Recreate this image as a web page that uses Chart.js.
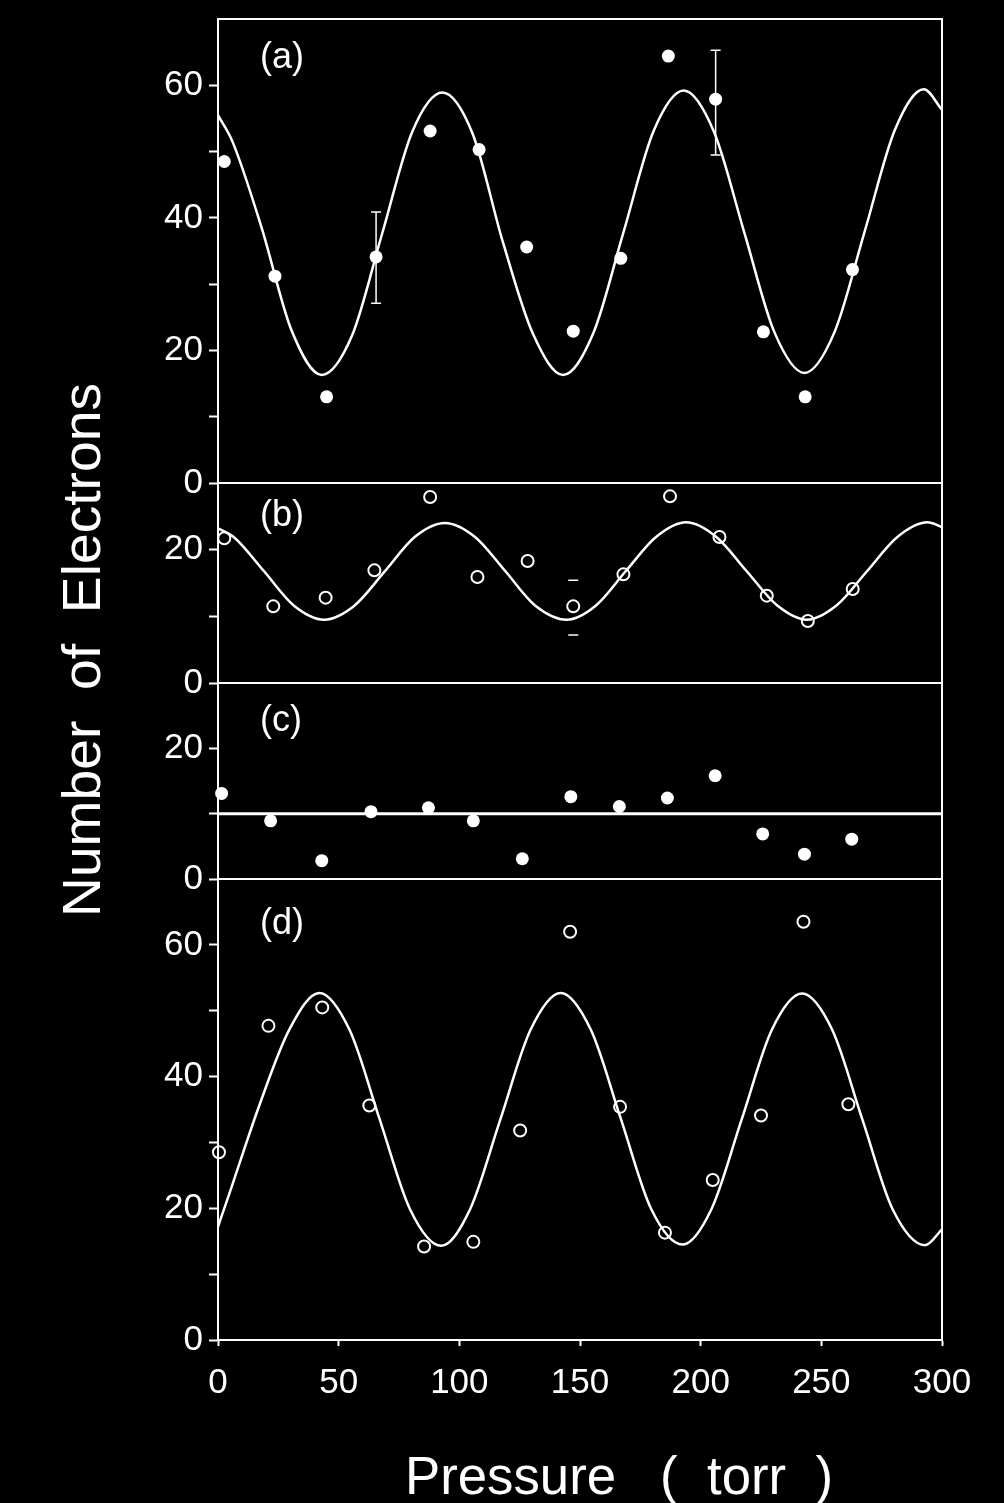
<!DOCTYPE html>
<html>
<head>
<meta charset="utf-8">
<title>Number of Electrons vs Pressure</title>
<script src="https://cdn.jsdelivr.net/npm/chart.js@4.4.1/dist/chart.umd.min.js"></script>
<style>
  html, body { margin: 0; padding: 0; background: #000; }
  #wrap { width: 1004px; height: 1503px; }
</style>
</head>
<body>
<div id="wrap"><canvas id="chart" width="1004" height="1503"></canvas></div>
<script>
// --- Values (x = pressure in torr, y = number of electrons)

// panel (a): filled dots + fitted curve
const aX = [2.6, 23.6, 45.0, 65.5, 87.9, 108.2, 127.9, 147.2, 166.9, 186.6, 206.2, 226.0, 243.3, 262.9];
const aY = [48.5, 31.2, 13.0, 34.1, 53.1, 50.3, 35.6, 22.9, 33.9, 64.4, 57.9, 22.8, 13.0, 32.2];
const aFitX = [0, 6, 18, 30.5, 43, 55.5, 68, 80.5, 93, 105.5, 118, 130.5, 143, 155.5, 168, 180.5, 193, 205.5, 218, 230.5, 243, 255.5, 268, 280.5, 292.5, 300];
const aFitY = [55.5, 51.5, 38.6, 23.0, 16.3, 22.2, 37.6, 53.0, 58.9, 52.7, 36.4, 22.5, 16.3, 22.6, 37.8, 53.1, 59.2, 53.0, 37.9, 22.8, 16.6, 22.8, 38.0, 53.3, 59.4, 56.3];

// panel (b): open circles + fitted curve
const bX = [2.6, 22.9, 44.6, 64.8, 87.9, 107.5, 128.3, 147.2, 168.0, 187.3, 207.8, 227.4, 244.4, 263.0];
const bY = [21.7, 11.5, 12.8, 16.9, 27.9, 15.9, 18.3, 11.5, 16.3, 28.0, 21.9, 13.1, 9.3, 14.1];
const bFitX = [0, 6.5, 19, 31.5, 44, 56.5, 69, 81.5, 94, 106.5, 119, 131.5, 144.5, 156.5, 169, 181.5, 194, 206.5, 219, 231.5, 244, 256.5, 269, 281.5, 294, 300];
const bFitY = [23.2, 21.9, 16.8, 11.6, 9.5, 11.6, 16.7, 21.9, 24.0, 21.9, 16.8, 11.6, 9.5, 11.6, 16.8, 21.9, 24.1, 21.9, 16.8, 11.7, 9.5, 11.7, 16.8, 21.9, 24.1, 23.4];

// panel (c): filled dots + flat line
const cX = [1.5, 21.8, 43.0, 63.4, 87.2, 105.8, 126.1, 146.2, 166.3, 186.2, 206.0, 225.7, 243.0, 262.6];
const cY = [13.1, 8.9, 2.8, 10.3, 10.9, 8.9, 3.1, 12.6, 11.1, 12.4, 15.8, 6.9, 3.8, 6.1];
const cFitX = [0, 300];
const cFitY = [10, 10];

// panel (d): open circles + fitted curve
const dX = [0.4, 20.9, 43.2, 62.7, 85.4, 105.8, 125.2, 145.9, 166.6, 185.2, 205.0, 225.0, 242.6, 261.2];
const dY = [28.5, 47.7, 50.5, 35.6, 14.2, 14.9, 31.8, 62.0, 35.4, 16.3, 24.3, 34.1, 63.5, 35.8];
const dFitX = [0, 4.5, 17, 29.5, 42, 54.5, 67, 79.5, 92.5, 104.5, 117, 129.5, 142, 154.5, 167, 179.5, 192.5, 204.5, 217, 229.5, 242, 254.5, 267, 279.5, 293, 300];
const dFitY = [17.2, 22.0, 35.5, 47.1, 52.7, 47.1, 33.5, 19.9, 14.3, 19.9, 33.5, 47.1, 52.7, 47.1, 33.5, 19.9, 14.5, 19.9, 33.5, 47.1, 52.6, 47.1, 33.5, 19.9, 14.4, 16.8];

// error bars
const errPanel = ['ya', 'ya', 'yb'];
const errX = [65.5, 206.2, 147.2];
const errLow = [27.1, 49.5, 7.2];
const errHigh = [40.9, 65.3, 15.4];
const errStem = [true, true, false];

// ticks
const xTicks = [0, 50, 100, 150, 200, 250, 300];
const aTicks = [0, 10, 20, 30, 40, 50, 60];
const bTicks = [0, 10, 20];
const cTicks = [0, 10, 20];
const dTicks = [0, 10, 20, 30, 40, 50, 60];
const bigLabels = [0, 20, 40, 60];
const smallLabels = [0, 20];

const FONT = '"Liberation Sans", Arial, Helvetica, sans-serif';

function pts(xs, ys) {
  return xs.map((x, i) => ({ x: x, y: ys[i] }));
}

function yScale(min, max, ticks, labels, stackWeight, order) {
  return {
    type: 'linear',
    position: 'left',
    stack: 'panels',
    stackWeight: stackWeight,
    weight: order,
    min: min,
    max: max,
    afterBuildTicks: s => { s.ticks = ticks.map(v => ({ value: v })); },
    afterFit: s => { s.width = 98; s.paddingTop = 0; s.paddingBottom = 0; },
    ticks: {
      autoSkip: false,
      color: '#fff',
      padding: 6,
      font: { family: FONT, size: 35 },
      callback: v => labels.includes(v) ? String(v) : ''
    },
    grid: { drawOnChartArea: false, drawTicks: true, tickLength: 9, tickColor: '#fff', tickWidth: 2, color: '#fff' },
    border: { display: true, color: '#fff', width: 2 }
  };
}

function dots(data, yId, open) {
  return {
    data: data,
    yAxisID: yId,
    showLine: false,
    clip: false,
    pointRadius: open ? 6 : 6.5,
    pointBackgroundColor: open ? 'rgba(0,0,0,0)' : '#fff',
    pointBorderColor: '#fff',
    pointBorderWidth: open ? 2 : 0
  };
}

function curve(data, yId, width) {
  return {
    data: data,
    yAxisID: yId,
    showLine: true,
    borderColor: '#fff',
    borderWidth: width,
    pointRadius: 0,
    cubicInterpolationMode: 'monotone'
  };
}

// panel frames, tags, error bars and axis titles
const decor = {
  id: 'decor',
  afterDatasetsDraw(chart) {
    const ctx = chart.ctx;
    const x = chart.scales.x;
    ctx.save();
    ctx.strokeStyle = '#fff';
    ctx.lineWidth = 1.5;
    errX.forEach((v, i) => {
      const y = chart.scales[errPanel[i]];
      const px = x.getPixelForValue(v);
      const lo = y.getPixelForValue(errLow[i]);
      const hi = y.getPixelForValue(errHigh[i]);
      ctx.beginPath();
      if (errStem[i]) { ctx.moveTo(px, lo); ctx.lineTo(px, hi); }
      ctx.moveTo(px - 5, lo); ctx.lineTo(px + 5, lo);
      ctx.moveTo(px - 5, hi); ctx.lineTo(px + 5, hi);
      ctx.stroke();
    });
    ctx.restore();
  },
  afterDraw(chart) {
    const ctx = chart.ctx;
    const x = chart.scales.x;
    ctx.save();
    ctx.strokeStyle = '#fff';
    ctx.lineWidth = 2;
    const ids = ['ya', 'yb', 'yc', 'yd'];
    const tags = ['(a)', '(b)', '(c)', '(d)'];
    const tagDy = [39, 33, 38, 45];
    ctx.fillStyle = '#fff';
    ctx.font = '36px ' + FONT;
    ctx.textAlign = 'left';
    ctx.textBaseline = 'middle';
    ids.forEach((id, i) => {
      const s = chart.scales[id];
      ctx.strokeRect(x.left, s.top, x.right - x.left, s.bottom - s.top);
      ctx.fillText(tags[i], x.left + 42, s.top + tagDy[i]);
    });

    ctx.font = '54px ' + FONT;
    ctx.textAlign = 'center';
    ctx.textBaseline = 'alphabetic';

    // x title
    const xt = 'Pressure   (  torr  )';
    const xw = ctx.measureText(xt).width;
    ctx.save();
    ctx.translate((x.left + x.right) / 2 + 39, 1494);
    ctx.scale(428 / xw, 1);
    ctx.fillText(xt, 0, 0);
    ctx.restore();

    // y title
    const yt = 'Number  of  Electrons';
    const yw = ctx.measureText(yt).width;
    ctx.save();
    ctx.translate(100, 650);
    ctx.rotate(-Math.PI / 2);
    ctx.scale(534 / yw, 1);
    ctx.fillText(yt, 0, 0);
    ctx.restore();

    ctx.restore();
  }
};

new Chart(document.getElementById('chart'), {
  type: 'scatter',
  data: {
    datasets: [
      dots(pts(aX, aY), 'ya', false),
      dots(pts(bX, bY), 'yb', true),
      dots(pts(cX, cY), 'yc', false),
      dots(pts(dX, dY), 'yd', true),
      curve(pts(aFitX, aFitY), 'ya', 2.5),
      curve(pts(bFitX, bFitY), 'yb', 2.5),
      curve(pts(cFitX, cFitY), 'yc', 3),
      curve(pts(dFitX, dFitY), 'yd', 2.5)
    ]
  },
  options: {
    responsive: false,
    animation: false,
    devicePixelRatio: 1,
    layout: { padding: { left: 120, right: 62, top: 19, bottom: 43 } },
    plugins: { legend: { display: false }, tooltip: { enabled: false } },
    scales: {
      x: {
        type: 'linear',
        position: 'bottom',
        min: 0,
        max: 300,
        afterBuildTicks: s => { s.ticks = xTicks.map(v => ({ value: v })); },
        afterFit: s => { s.height = 120; s.paddingLeft = 0; s.paddingRight = 0; },
        ticks: { autoSkip: false, maxRotation: 0, color: '#fff', padding: 16, font: { family: FONT, size: 35 } },
        grid: { drawOnChartArea: false, drawTicks: true, tickLength: 6, tickColor: '#fff', tickWidth: 2, color: '#fff' },
        border: { display: true, color: '#fff', width: 2 }
      },
      ya: yScale(0, 70, aTicks, bigLabels, 464, 4),
      yb: yScale(0, 30, bTicks, smallLabels, 200, 3),
      yc: yScale(0, 30, cTicks, smallLabels, 196, 2),
      yd: yScale(0, 70, dTicks, bigLabels, 461, 1)
    }
  },
  plugins: [decor]
});
</script>
</body>
</html>
